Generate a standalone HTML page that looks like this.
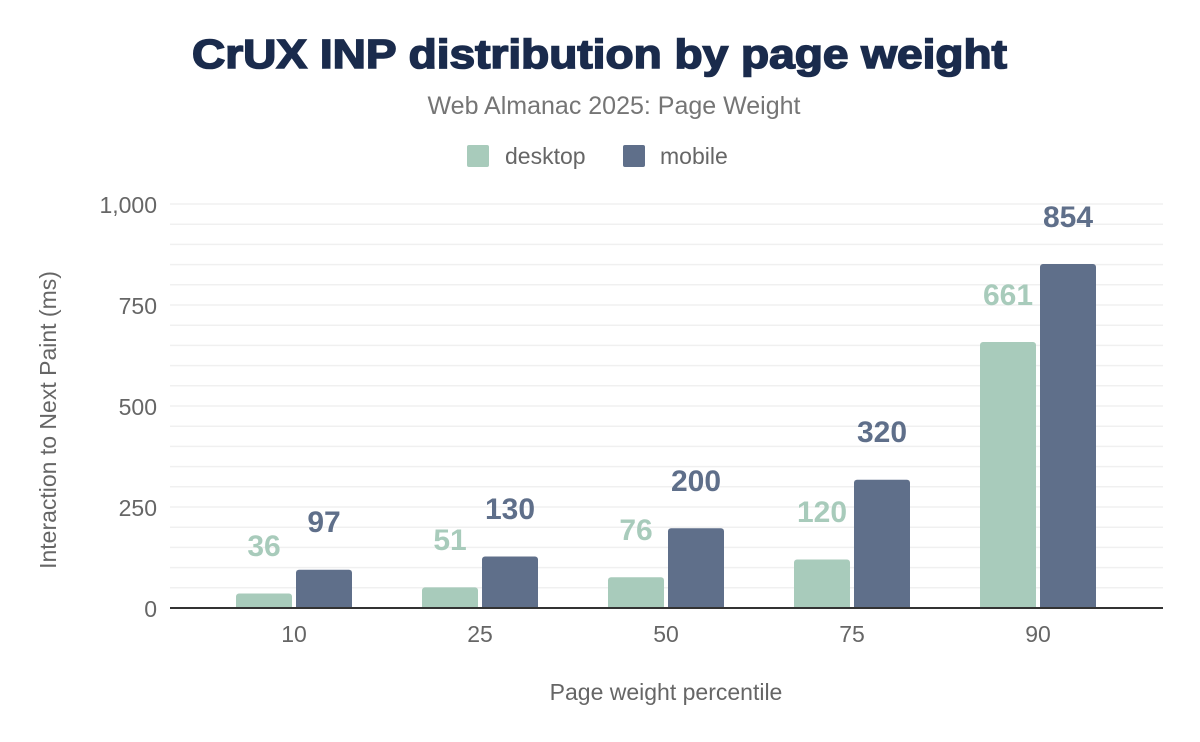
<!DOCTYPE html>
<html><head><meta charset="utf-8"><style>
body{margin:0;background:#fff;}
svg{display:block;font-family:"Liberation Sans",Arial,sans-serif;}
</style></head><body>
<svg width="1200" height="742" viewBox="0 0 1200 742">
<rect width="1200" height="742" fill="#fff"/>
<text x="192" y="68" textLength="815" lengthAdjust="spacingAndGlyphs" font-size="41" font-weight="900" fill="#1a2b4c" stroke="#1a2b4c" stroke-width="1.6">CrUX INP distribution by page weight</text>
<text x="614" y="114" text-anchor="middle" font-size="25" fill="#757575">Web Almanac 2025: Page Weight</text>
<rect x="467" y="145" width="22" height="22" rx="2" fill="#a8cbbb"/>
<text x="505" y="164" font-size="23" fill="#666">desktop</text>
<rect x="623" y="145" width="22" height="22" rx="2" fill="#5f6f8a"/>
<text x="660" y="164" font-size="23" fill="#666">mobile</text>
<g stroke="#f0f0f0" stroke-width="1.5">
<line x1="170" x2="1163" y1="204" y2="204"/><line x1="170" x2="1163" y1="224.2" y2="224.2"/><line x1="170" x2="1163" y1="244.4" y2="244.4"/><line x1="170" x2="1163" y1="264.6" y2="264.6"/><line x1="170" x2="1163" y1="284.8" y2="284.8"/>
<line x1="170" x2="1163" y1="305" y2="305"/><line x1="170" x2="1163" y1="325.2" y2="325.2"/><line x1="170" x2="1163" y1="345.4" y2="345.4"/><line x1="170" x2="1163" y1="365.6" y2="365.6"/><line x1="170" x2="1163" y1="385.8" y2="385.8"/>
<line x1="170" x2="1163" y1="406" y2="406"/><line x1="170" x2="1163" y1="426.2" y2="426.2"/><line x1="170" x2="1163" y1="446.4" y2="446.4"/><line x1="170" x2="1163" y1="466.6" y2="466.6"/><line x1="170" x2="1163" y1="486.8" y2="486.8"/>
<line x1="170" x2="1163" y1="507" y2="507"/><line x1="170" x2="1163" y1="527.2" y2="527.2"/><line x1="170" x2="1163" y1="547.4" y2="547.4"/><line x1="170" x2="1163" y1="567.6" y2="567.6"/><line x1="170" x2="1163" y1="587.8" y2="587.8"/>
</g>
<g font-size="23" fill="#666" text-anchor="end">
<text x="157" y="213">1,000</text><text x="157" y="314">750</text><text x="157" y="415">500</text><text x="157" y="516">250</text><text x="157" y="617">0</text>
</g>
<text transform="translate(56,420) rotate(-90)" text-anchor="middle" font-size="23" fill="#666">Interaction to Next Paint (ms)</text>
<g fill="#a8cbbb">
<path d="M236,608V596.5a3,3 0 0 1 3,-3H289a3,3 0 0 1 3,3V608Z"/>
<path d="M422,608V590.4a3,3 0 0 1 3,-3H475a3,3 0 0 1 3,3V608Z"/>
<path d="M608,608V580.3a3,3 0 0 1 3,-3H661a3,3 0 0 1 3,3V608Z"/>
<path d="M794,608V562.5a3,3 0 0 1 3,-3H847a3,3 0 0 1 3,3V608Z"/>
<path d="M980,608V345a3,3 0 0 1 3,-3H1033a3,3 0 0 1 3,3V608Z"/>
</g>
<g fill="#5f6f8a">
<path d="M296,608V572.8a3,3 0 0 1 3,-3H349a3,3 0 0 1 3,3V608Z"/>
<path d="M482,608V559.5a3,3 0 0 1 3,-3H535a3,3 0 0 1 3,3V608Z"/>
<path d="M668,608V531.2a3,3 0 0 1 3,-3H721a3,3 0 0 1 3,3V608Z"/>
<path d="M854,608V482.7a3,3 0 0 1 3,-3H907a3,3 0 0 1 3,3V608Z"/>
<path d="M1040,608V267a3,3 0 0 1 3,-3H1093a3,3 0 0 1 3,3V608Z"/>
</g>
<line x1="170" x2="1163" y1="608" y2="608" stroke="#333" stroke-width="2"/>
<g font-size="30" font-weight="bold" text-anchor="middle" fill="#a8cbbb">
<text x="264" y="556">36</text><text x="450" y="550">51</text><text x="636" y="540">76</text><text x="822" y="522">120</text><text x="1008" y="305">661</text>
</g>
<g font-size="30" font-weight="bold" text-anchor="middle" fill="#5f6f8a">
<text x="324" y="532">97</text><text x="510" y="519">130</text><text x="696" y="491">200</text><text x="882" y="442">320</text><text x="1068" y="227">854</text>
</g>
<g font-size="23" fill="#666" text-anchor="middle">
<text x="294" y="642">10</text><text x="480" y="642">25</text><text x="666" y="642">50</text><text x="852" y="642">75</text><text x="1038" y="642">90</text>
</g>
<text x="666" y="700" text-anchor="middle" font-size="23" fill="#666">Page weight percentile</text>
</svg>
</body></html>
